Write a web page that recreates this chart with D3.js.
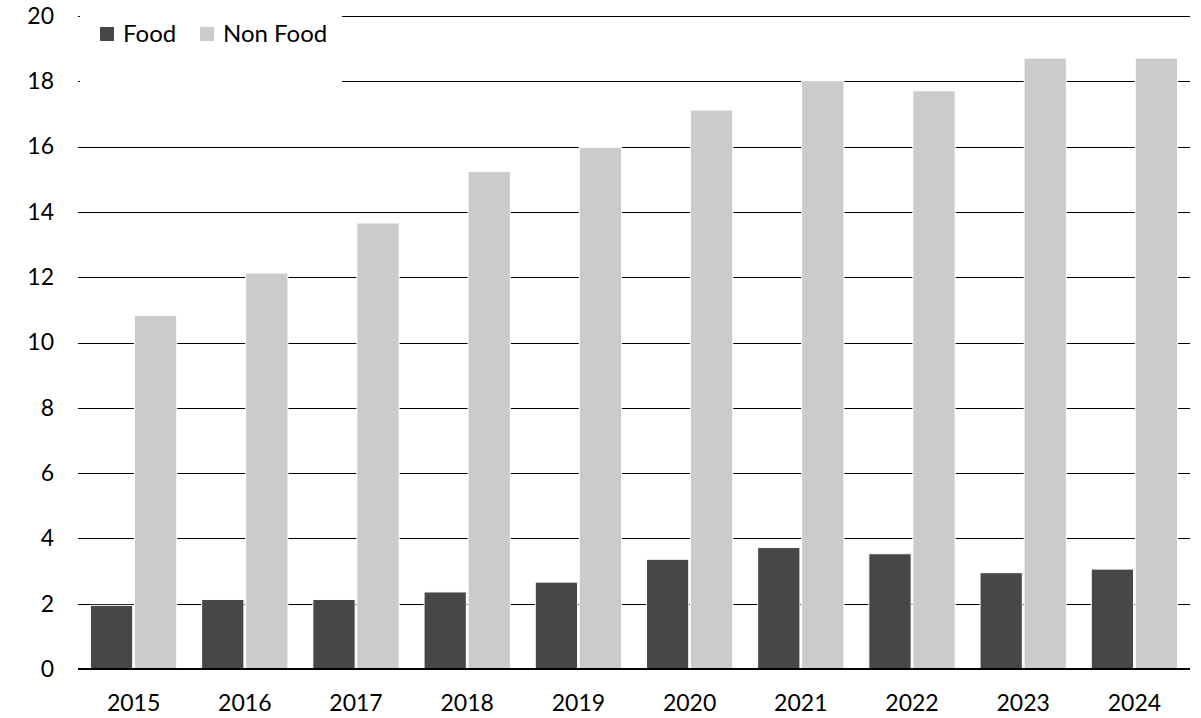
<!DOCTYPE html>
<html>
<head>
<meta charset="utf-8">
<script src="https://cdn.jsdelivr.net/npm/d3@7"></script>
<style>
  html, body { margin: 0; padding: 0; background: #fff; }
  svg { display: block; }
  text { font-family: Lato, "Open Sans", sans-serif; fill: #000; }
</style>
</head>
<body>
<svg id="chart" width="1201" height="718"></svg>
<script>
const years = ["2015","2016","2017","2018","2019","2020","2021","2022","2023","2024"];
const seriesNames = ["Food", "Non Food"];
const foodValues = [1.95, 2.13, 2.13, 2.36, 2.66, 3.36, 3.72, 3.53, 2.95, 3.06];
const nonFoodValues = [10.83, 12.13, 13.66, 15.24, 15.97, 17.12, 18.02, 17.71, 18.71, 18.71];
const yTicks = [0, 2, 4, 6, 8, 10, 12, 14, 16, 18, 20];
const colors = ["#474747", "#cbcbcb"];

const svg = d3.select("#chart");
const margin = {left: 78, right: 11, top: 16, bottom: 49};
const W = 1201, H = 718;

const x0 = d3.scaleBand().domain(years)
  .range([margin.left, W - margin.right])
  .paddingInner(0.224).paddingOuter(0.112);
const x1 = d3.scaleBand().domain(seriesNames)
  .range([0, x0.bandwidth()]).paddingInner(0.04);
const y = d3.scaleLinear().domain([0, 20]).range([H - margin.bottom, margin.top]);

// gridlines
svg.append("g").selectAll("line")
  .data(yTicks.filter(d => d > 0))
  .join("line")
  .attr("x1", margin.left).attr("x2", W - margin.right)
  .attr("y1", d => Math.round(y(d)) + 0.5).attr("y2", d => Math.round(y(d)) + 0.5)
  .attr("stroke", "#000").attr("stroke-width", 1);

// bars
const data = years.map((yr, i) => ({year: yr, values: [
  {key: "Food", value: foodValues[i]},
  {key: "Non Food", value: nonFoodValues[i]}
]}));

svg.append("g").selectAll("g")
  .data(data).join("g")
  .attr("transform", d => `translate(${x0(d.year)},0)`)
  .selectAll("rect")
  .data(d => d.values).join("rect")
  .attr("x", d => x1(d.key))
  .attr("width", x1.bandwidth())
  .attr("y", d => y(d.value))
  .attr("height", d => y(0) - y(d.value))
  .attr("fill", (d, i) => colors[i])
  .attr("stroke", "#fff").attr("stroke-width", 1);

// baseline
svg.append("line")
  .attr("x1", margin.left).attr("x2", W - margin.right)
  .attr("y1", y(0)).attr("y2", y(0))
  .attr("stroke", "#000").attr("stroke-width", 2.2);

// y axis labels
const yAxis = d3.axisLeft(y).tickValues(yTicks).tickSize(0).tickPadding(24);
const gy = svg.append("g").attr("transform", `translate(${margin.left},0)`).call(yAxis);
gy.select(".domain").remove();
gy.selectAll("text").attr("font-size", 23).attr("font-family", "Lato, 'Open Sans', sans-serif").attr("fill", "#000");

// x axis labels
const xAxis = d3.axisBottom(x0).tickSize(0).tickPadding(26);
const gx = svg.append("g").attr("transform", `translate(0,${y(0)})`).call(xAxis);
gx.select(".domain").remove();
gx.selectAll("text").attr("font-size", 23).attr("font-family", "Lato, 'Open Sans', sans-serif").attr("fill", "#000");

// legend background and legend
svg.append("rect").attr("x", margin.left + 2).attr("y", 0).attr("width", 262).attr("height", 90).attr("fill", "#fff");
const legendX = [100, 200];
const lg = svg.append("g").selectAll("g").data(seriesNames).join("g")
  .attr("transform", (d, i) => `translate(${legendX[i]},27)`);
lg.append("rect").attr("width", 14).attr("height", 14).attr("fill", (d, i) => colors[i]);
lg.append("text").attr("x", 23).attr("y", 7).attr("dy", "0.35em")
  .attr("font-size", 24).text(d => d);
</script>
</body>
</html>
